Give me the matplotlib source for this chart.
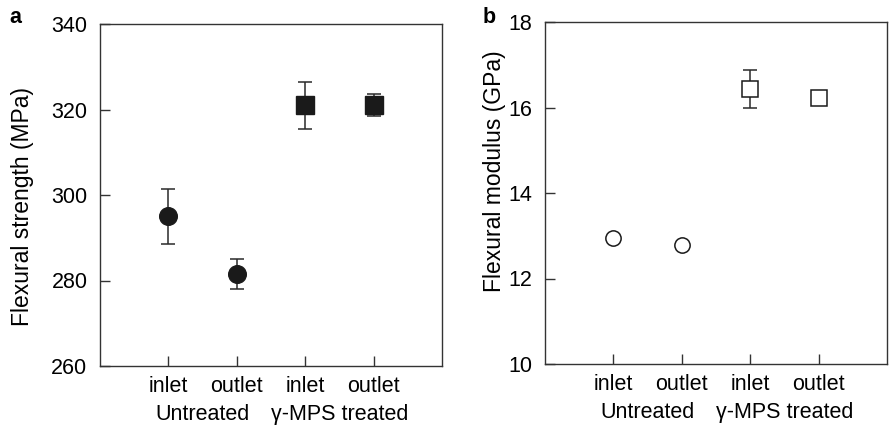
"""Flexural strength and modulus of untreated vs gamma-MPS treated specimens."""

import matplotlib as mpl
import matplotlib.pyplot as plt

mpl.rcParams.update({"font.family": ["Liberation Sans", "DejaVu Sans"], "font.size": 15.5})

positions = [1, 2, 3, 4]
tick_labels = ["inlet", "outlet", "inlet", "outlet"]
group_labels = ["Untreated", "\u03b3-MPS treated"]

strength_untreated = [295.0, 281.5]
strength_untreated_err = [6.5, 3.5]
strength_treated = [321.0, 321.0]
strength_treated_err = [5.5, 2.6]

modulus_untreated = [12.95, 12.78]
modulus_untreated_err = [0.0, 0.0]
modulus_treated = [16.43, 16.22]
modulus_treated_err = [0.45, 0.0]

INK = "#1a1a1a"
SPINE = "#333333"
W, H = 889, 429
FS = 15.5


def _style_axis(ax, ylim, yticks):
    ax.set_xlim(0, 5)
    ax.set_ylim(*ylim)
    ax.set_yticks(yticks)
    ax.set_xticks(positions, tick_labels)
    ax.tick_params(axis="both", direction="in", length=7, width=1.0, color=SPINE, labelsize=FS)
    ax.tick_params(axis="y", pad=9)
    ax.tick_params(axis="x", pad=7)
    for spine in ax.spines.values():
        spine.set_color(SPINE)
        spine.set_linewidth(1.0)
    for label, xc in zip(group_labels, [1.5, 3.5]):
        ax.annotate(label, xy=(xc, 0), xycoords=("data", "axes fraction"),
                    xytext=(0, -39), textcoords="offset points",
                    ha="center", va="baseline", fontsize=FS)


fig = plt.figure(figsize=(W / 100, H / 100), dpi=100)
ax_a = fig.add_axes([100 / W, 1 - 366 / H, 342 / W, 342 / H])
ax_b = fig.add_axes([545 / W, 1 - 364 / H, 342 / W, 342 / H])

err_kw = dict(ecolor="#2a2a2a", elinewidth=1.1, capsize=4.7, capthick=1.1, linestyle="none")

ax_a.errorbar(positions[:2], strength_untreated, yerr=strength_untreated_err, fmt="o",
              ms=12.7, mfc=INK, mec=INK, **err_kw)
ax_a.errorbar(positions[2:], strength_treated, yerr=strength_treated_err, fmt="s",
              ms=12.7, mfc=INK, mec=INK, **err_kw)
_style_axis(ax_a, (260, 340), [260, 280, 300, 320, 340])

ax_b.errorbar(positions[:2], modulus_untreated, yerr=modulus_untreated_err, fmt="o",
              ms=11, mfc="white", mec=INK, mew=1.1, **err_kw)
ax_b.errorbar(positions[2:], modulus_treated, yerr=modulus_treated_err, fmt="s",
              ms=11.5, mfc="white", mec=INK, mew=1.1, zorder=3, **err_kw)
_style_axis(ax_b, (10, 18), [10, 12, 14, 16, 18])

# y labels placed by hand, the two panels sit at different offsets
fig.text(23 / W, 1 - 206 / H, "Flexural strength (MPa)", rotation=90,
         ha="center", va="center", fontsize=16.5)
fig.text(494 / W, 1 - 171 / H, "Flexural modulus (GPa)", rotation=90,
         ha="center", va="center", fontsize=16.5)

fig.text(9 / W, 1 - 23 / H, "a", fontsize=15.5, fontweight="bold", va="baseline")
fig.text(483 / W, 1 - 23 / H, "b", fontsize=15.5, fontweight="bold", va="baseline")

fig.savefig("out.png", dpi=100)
plt.close(fig)
